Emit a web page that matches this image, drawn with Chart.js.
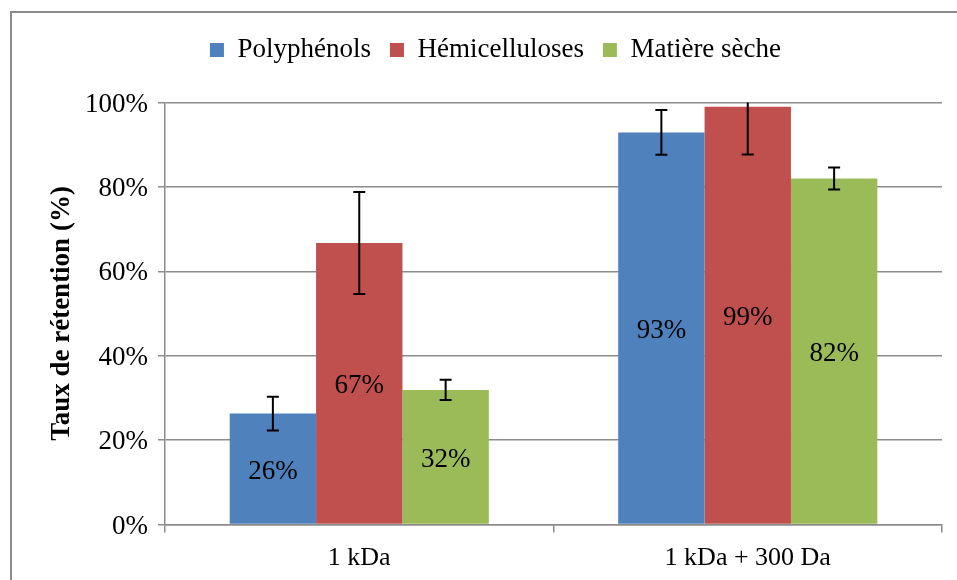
<!DOCTYPE html>
<html>
<head>
<meta charset="utf-8">
<script src="https://cdn.jsdelivr.net/npm/chart.js@4"></script>
<style>
  body { margin: 0; background: #fff; }
  #wrap { position: relative; width: 957px; height: 580px; overflow: hidden; }
  #frame { position: absolute; left: 10px; top: 11px; width: 1000px; height: 600px;
           border-left: 2px solid #8a8a8a; border-top: 2px solid #8a8a8a; }
  #retentionChart { position: absolute; left: 0; top: 0; }
</style>
</head>
<body>
<div id="wrap">
  <div id="frame"></div>
  <canvas id="retentionChart" width="957" height="580"></canvas>
</div>
<script>
const membranes = ["1 kDa", "1 kDa + 300 Da"];
const polyphenols = [26.3, 92.9];
const hemicelluloses = [66.7, 99.0];
const matiereSeche = [31.9, 82.0];
const errPolyphenols = [4.0, 5.3];
const errHemicelluloses = [12.1, 11.3];
const errMatiereSeche = [2.4, 2.6];
const yTicks = [0, 20, 40, 60, 80, 100];

const serif = "'Liberation Serif', 'Times New Roman', serif";
const grey = "#8c8c8c";

// extra space under the legend
const legendGap = {
    id: "legendGap",
    beforeInit(chart) {
        const fit = chart.legend.fit;
        chart.legend.fit = function () {
            fit.bind(chart.legend)();
            this.height += 29;
        };
    }
};

// value labels in the middle of each bar + error bars
const barExtras = {
    id: "barExtras",
    afterDatasetsDraw(chart) {
        const ctx = chart.ctx;
        const area = chart.chartArea;
        const y = chart.scales.y;
        chart.data.datasets.forEach((ds, i) => {
            const meta = chart.getDatasetMeta(i);
            meta.data.forEach((bar, j) => {
                const v = ds.data[j];
                ctx.save();
                ctx.font = "27px " + serif;
                ctx.fillStyle = "#000";
                ctx.textAlign = "center";
                ctx.textBaseline = "middle";
                ctx.fillText(Math.round(v) + "%", bar.x, (bar.y + bar.base) / 2 + 3);
                ctx.restore();

                const e = ds.errors[j];
                const top = y.getPixelForValue(v + e);
                const bot = y.getPixelForValue(v - e);
                ctx.save();
                ctx.beginPath();
                ctx.rect(area.left, area.top, area.right - area.left, area.bottom - area.top);
                ctx.clip();
                ctx.strokeStyle = "#000";
                ctx.lineWidth = 2;
                ctx.beginPath();
                ctx.moveTo(bar.x, top);
                ctx.lineTo(bar.x, bot);
                ctx.moveTo(bar.x - 6, top);
                ctx.lineTo(bar.x + 6, top);
                ctx.moveTo(bar.x - 6, bot);
                ctx.lineTo(bar.x + 6, bot);
                ctx.stroke();
                ctx.restore();
            });
        });
    }
};

const retentionChart = new Chart(
    document.getElementById("retentionChart"),
    {
        type: "bar",
        data: {
            labels: membranes,
            datasets: [
                { label: "Polyphénols", data: polyphenols, errors: errPolyphenols, backgroundColor: "#4F81BD" },
                { label: "Hémicelluloses", data: hemicelluloses, errors: errHemicelluloses, backgroundColor: "#C0504D" },
                { label: "Matière sèche", data: matiereSeche, errors: errMatiereSeche, backgroundColor: "#9BBB59" }
            ]
        },
        options: {
            responsive: false,
            animation: false,
            layout: { padding: { left: 49, right: 15, top: 17.5, bottom: 0 } },
            datasets: { bar: { categoryPercentage: 0.667, barPercentage: 1.0 } },
            plugins: {
                legend: {
                    display: true,
                    position: "top",
                    labels: {
                        boxWidth: 14,
                        boxHeight: 14,
                        padding: 19,
                        color: "#000",
                        font: { family: serif, size: 27 }
                    }
                },
                tooltip: { enabled: false }
            },
            scales: {
                x: {
                    offset: true,
                    grid: { display: true, offset: true, drawOnChartArea: false, drawTicks: true, tickLength: 8, color: grey, lineWidth: 1.5 },
                    border: { display: true, color: grey, width: 1.5 },
                    ticks: { color: "#000", padding: 10, font: { family: serif, size: 26 } },
                    afterFit(scale) { scale.height = 55.5; }
                },
                y: {
                    min: 0,
                    max: 100,
                    afterBuildTicks(scale) { scale.ticks = yTicks.map(v => ({ value: v })); },
                    grid: { color: grey, lineWidth: 1.5, tickLength: 7 },
                    border: { display: true, color: grey, width: 1.5 },
                    ticks: { color: "#000", padding: 10, labelOffset: 2, font: { family: serif, size: 27 }, callback: v => v + "%" },
                    title: {
                        display: true,
                        text: "Taux de rétention (%)",
                        color: "#000",
                        font: { family: serif, size: 27, weight: "bold", lineHeight: 1 },
                        padding: { top: 0, bottom: 0 }
                    },
                    afterFit(scale) { scale.width = 116; }
                }
            }
        },
        plugins: [legendGap, barExtras]
    }
);
</script>
</body>
</html>
